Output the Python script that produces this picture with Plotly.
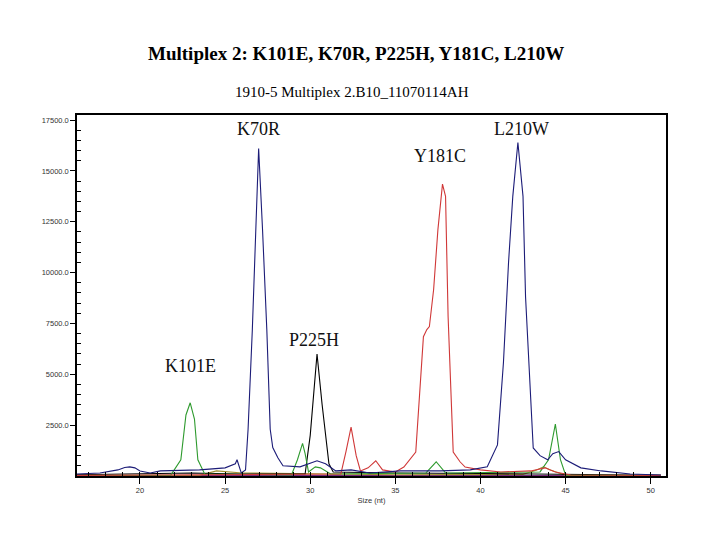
import plotly.graph_objects as go

# ---- data (size in nt, signal intensity) ----
blue_x = [16.3, 17.65, 18.7, 19.1, 19.4, 19.7, 20.0, 20.6, 21.2, 22.0, 23.5, 25.0, 25.6, 25.7, 25.95, 26.2,
          26.35, 26.6, 26.78, 26.97, 27.2, 27.45, 27.65, 27.8, 28.1, 28.4, 29.4, 30.0, 30.4, 30.9, 31.5, 32.4, 33.5,
          35.3, 37.65, 39.4, 40.4, 41.0, 41.35, 41.65, 41.9, 42.2, 42.5, 42.65, 42.95, 43.1, 43.5, 43.95, 44.25, 44.6,
          45.0, 45.9, 47.1, 48.8, 50.6]
blue_y = [100, 150, 300, 420, 450, 400, 250, 150, 250, 280, 300, 400, 600, 800, 150, 300,
          2300, 7200, 12100, 16100, 12100, 7200, 2300, 1400, 900, 500, 450, 650, 750, 600, 250, 300, 150,
          250, 250, 300, 450, 1530, 5570, 10500, 13750, 16400, 13750, 8800, 3900, 1380, 1000, 800, 1100, 1200,
          800, 400, 250, 100, 50]

red_x = [16.3, 25.0, 31.5, 31.8, 32.1, 32.4, 32.7, 32.95, 33.4, 33.85, 34.25, 35.0, 35.5, 36.2, 36.65,
         36.85, 37.0, 37.25, 37.5, 37.77, 37.95, 38.1, 38.4, 38.8, 39.1, 40.0, 41.2, 42.95, 43.8,
         44.4, 45.3, 50.6]
red_y = [30, 60, 80, 100, 1200, 2400, 1000, 250, 400, 750, 300, 200, 440, 1180, 6850,
         7200, 7350, 9170, 12100, 14350, 13750, 7840, 1180, 700, 440, 300, 200, 250, 400,
         200, 50, 30]

green_x = [16.3, 21.8, 22.4, 22.7, 22.95, 23.2, 23.4, 23.8, 28.9, 29.25, 29.55, 29.7, 29.9, 30.3,
           30.6, 31.2, 36.8, 37.4, 37.95, 43.5, 44.0, 44.4, 44.7, 45.0, 50.6]
green_y = [30, 30, 800, 3000, 3600, 2800, 800, 100, 50, 800, 1600, 1100, 200, 450,
           400, 100, 150, 700, 150, 200, 800, 2550, 800, 50, 30]

black_x = [16.3, 20.0, 23.0, 26.0, 29.7, 30.0, 30.4, 30.7, 31.1, 31.35, 35.0, 40.0, 45.0, 50.6]
black_y = [60, 120, 150, 100, 100, 2000, 6000, 3500, 600, 200, 150, 120, 80, 40]

olive_x = [16.3, 23.5, 24.5, 26.0, 35.0, 42.5, 43.3, 43.7, 44.1, 45.0, 50.6]
olive_y = [20, 40, 250, 150, 60, 80, 300, 450, 300, 40, 20]

purple_x = [16.3, 17.5, 18.5, 22.0, 30.0, 40.0, 50.6]
purple_y = [60, 40, 20, 20, 20, 20, 20]

x_ticks = [20, 25, 30, 35, 40, 45, 50]
y_ticks = [2500, 5000, 7500, 10000, 12500, 15000, 17500]
y_tick_labels = ["2500.0", "5000.0", "7500.0", "10000.0", "12500.0", "15000.0", "17500.0"]

peak_labels = ["K101E", "K70R", "P225H", "Y181C", "L210W"]
peak_label_x = [22.95, 26.95, 30.25, 37.65, 42.4]
peak_label_y = [5420, 17060, 6700, 15730, 17060]

title_text = "Multiplex 2: K101E, K70R, P225H, Y181C, L210W"
subtitle_text = "1910-5 Multiplex 2.B10_11070114AH"

# page body adds an 8px offset; plot area target: x 77..666, y 115..476 in the screenshot
OFF = 8
PL, PR, PT, PB = 77, 666, 115, 476

fig = go.Figure()
series = [
    (purple_x, purple_y, "#7a2a7a"),
    (olive_x, olive_y, "#a09030"),
    (black_x, black_y, "#000000"),
    (green_x, green_y, "#2e9a2e"),
    (red_x, red_y, "#d03838"),
    (blue_x, blue_y, "#1c1c78"),
]
for xs, ys, col in series:
    fig.add_trace(go.Scatter(x=xs, y=ys, mode="lines", line=dict(color=col, width=1.1),
                             showlegend=False, hoverinfo="skip"))

for t, xv, yv in zip(peak_labels, peak_label_x, peak_label_y):
    fig.add_annotation(x=xv, y=yv, text=t, showarrow=False, xref="x", yref="y",
                       font=dict(family="Liberation Serif", size=18, color="#111"))


def dom_x(px):
    return (px - PL) / (PR - PL)


def dom_y(py):
    return (PB - py) / (PB - PT)


fig.add_annotation(xref="x domain", yref="y domain", x=dom_x(356), y=dom_y(53),
                   xanchor="center", yanchor="middle",
                   text="<b>" + title_text + "</b>", showarrow=False,
                   font=dict(family="Liberation Serif", size=19, color="#000"))
fig.add_annotation(xref="x domain", yref="y domain", x=dom_x(352), y=dom_y(92),
                   xanchor="center", yanchor="middle",
                   text=subtitle_text, showarrow=False,
                   font=dict(family="Liberation Serif", size=15, color="#000"))

fig.update_layout(
    width=720 - OFF, height=540 - OFF,
    margin=dict(l=PL - OFF, r=720 - PR, t=PT - OFF, b=540 - PB, autoexpand=False),
    paper_bgcolor="white", plot_bgcolor="white",
    font=dict(family="Liberation Sans", size=7, color="#333"),
)
fig.update_xaxes(
    range=[16.3, 50.9], showgrid=False, zeroline=False,
    showline=True, linecolor="black", linewidth=1.5, mirror=True,
    tickmode="array", tickvals=x_ticks, ticktext=[str(v) for v in x_ticks],
    ticks="outside", ticklen=6, tickcolor="black",
    minor=dict(dtick=1, ticks="inside", ticklen=4, tickcolor="black"),
    tickfont=dict(size=7.5, color="#333"),
    title=dict(text="Size (nt)", font=dict(size=7.5, color="#333"), standoff=4),
)
fig.update_yaxes(
    range=[0, 17750], showgrid=False, zeroline=False,
    showline=True, linecolor="black", linewidth=1.5, mirror=True,
    tickmode="array", tickvals=y_ticks, ticktext=y_tick_labels,
    ticks="outside", ticklen=5, tickcolor="black",
    minor=dict(tickvals=[v for v in range(500, 17750, 500) if v % 2500], ticks="inside", ticklen=4, tickcolor="black"),
    tickfont=dict(size=7.5, color="#333"),
)

fig.write_html("out.html")
